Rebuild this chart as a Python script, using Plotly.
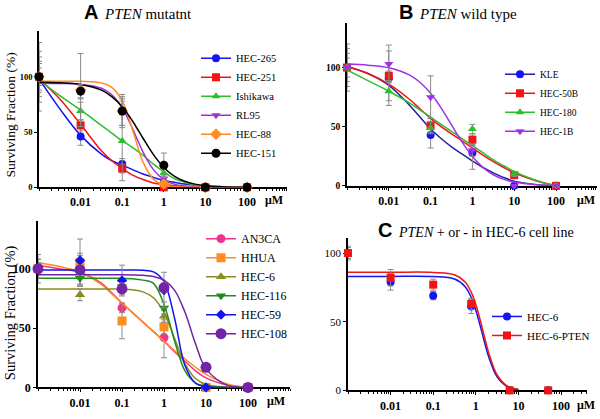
import plotly.graph_objects as go

# ---------------- data ----------------
conc = [0.001, 0.01, 0.1, 1, 10, 100]          # µM (first point = control, drawn at 0.001)
conc_C = [0.001, 0.01, 0.1, 0.78, 6.25, 50]
fit_log = [-3, -2.5, -2, -1.5, -1.25, -1, -0.75, -0.5, -0.25, 0, 0.25, 0.5, 0.75, 1, 1.5, 2]
fit_log_C = [-3, -2, -1, -0.5, -0.25, -0.1, 0, 0.1, 0.2, 0.3, 0.5, 0.75, 1]
tick_vals = [0.01, 0.1, 1, 10, 100]
tick_text = ["0.01", "0.1", "1", "10", "100"]

# Panel A (PTEN mutant)
A_names = ["HEC-265", "HEC-251", "Ishikawa", "RL95", "HEC-88", "HEC-151"]
A_hec265 = [100, 46, 21, 4, 0, 0]
A_hec251 = [100, 56, 17, 0, 0, 0]
A_ishikawa = [100, 69, 42, 13, 0, 0]
A_rl95 = [100, 86, 68, 8, 0, 0]
A_hec88 = [100, 88, 69, 3, 0, 0]
A_hec151 = [100, 87, 69, 20, 0, 0]
A_err_hec265 = [8, 8, 5, 3, 0, 0]
A_err_hec251 = [12, 5, 4, 1, 0, 0]
A_err_ishikawa = [18, 8, 36, 4, 0, 0]
A_err_rl95 = [23, 6, 12, 3, 0, 0]
A_err_hec88 = [31, 33, 15, 3, 0, 0]
A_err_hec151 = [14, 6, 13, 11, 0, 0]
A_fit_hec265 = [98, 71, 47, 30, 24, 20, 16, 12, 9, 6, 4.5, 3, 2, 1, 0, 0]
A_fit_hec251 = [98, 80, 57, 33, 24, 17, 11, 7, 4, 2.5, 1.5, 1, 0.5, 0.2, 0, 0]
A_fit_ishikawa = [97, 83, 70, 56, 49, 42, 36, 29, 21, 14, 8, 4.5, 2, 1, 0, 0]
A_fit_rl95 = [94, 93.9, 93.3, 89.6, 83.7, 71.8, 52.9, 31.9, 16, 7, 2.9, 1.2, 0.5, 0.2, 0, 0]
A_fit_hec88 = [96, 96, 95.9, 94.5, 90.5, 78.2, 51.8, 22.8, 7.4, 2.1, 0.6, 0.2, 0, 0, 0, 0]
A_fit_hec151 = [95, 94.5, 93, 87.9, 82.1, 72.9, 59.8, 44.4, 29.6, 18, 10.2, 5.5, 2.9, 1.6, 0.4, 0.1]

# Panel B (PTEN wild type)
B_names = ["KLE", "HEC-50B", "HEC-180", "HEC-1B"]
B_kle = [100, 91, 43, 28, 0, 0]
B_hec50b = [100, 93, 51, 39, 9, 0]
B_hec180 = [100, 80, 49, 48, 10, 0]
B_hec1b = [100, 103, 75, 30, 0, 0]
B_err_kle = [12, 23, 11, 14, 0, 0]
B_err_hec50b = [16, 4, 6, 5, 2, 0]
B_err_hec180 = [20, 8, 5, 4, 2, 0]
B_err_hec1b = [8, 16, 18, 5, 0, 0]
B_fit_kle = [101, 95, 85, 68, 58, 48, 40, 33, 27, 21, 15.5, 11, 7, 4, 1.2, 0]
B_fit_hec50b = [101, 95, 86, 73, 65, 57, 50, 44, 38, 32, 26, 20.5, 15.5, 11, 4.5, 0]
B_fit_hec180 = [98, 89, 80, 70, 64, 58, 52, 46, 40, 34, 28, 22, 17, 12, 5, 0]
B_fit_hec1b = [103, 102, 99.8, 93.6, 87.4, 78.2, 65.9, 51.5, 37.1, 24.8, 15.6, 9.4, 5.5, 3.2, 1, 0.3]

# Panel D (bottom left)
D_names = ["AN3CA", "HHUA", "HEC-6", "HEC-116", "HEC-59", "HEC-108"]
D_an3ca = [100, 99, 67, 42, 0, 0]
D_hhua = [100, 105, 56, 51, 0, 0]
D_hec6 = [100, 78, 83, 60, 0, 0]
D_hec116 = [100, 92, 85, 67, 0, 0]
D_hec59 = [100, 107, 90, 82, 0, 0]
D_hec108 = [100, 99, 83, 84, 17, 0]
D_err_an3ca = [8, 12, 4, 17, 0, 0]
D_err_hhua = [12, 20, 15, 6, 0, 0]
D_err_hec6 = [5, 5, 3, 5, 0, 0]
D_err_hec116 = [8, 6, 4, 5, 0, 0]
D_err_hec59 = [5, 6, 13, 15, 0, 0]
D_err_hec108 = [4, 4, 5, 4, 2, 0]
D_fit_an3ca = [103, 100, 97, 88, 80, 71, 63, 55, 47, 39, 30, 22, 14, 8, 2, 0]
D_fit_hhua = [105, 102, 97, 87, 79, 71, 63, 55, 47, 39, 31, 24, 17, 11, 3, 0]
D_fit_hec6 = [83, 83, 83, 83, 82.9, 82.7, 82.2, 80.5, 75.5, 63.1, 41.5, 19.9, 7.5, 2.5, 0.3, 0]
D_fit_hec116 = [92, 92, 92, 92, 92, 91.9, 91.6, 90.4, 87.6, 69.9, 39.4, 13.9, 3.8, 0.9, 0, 0]
D_fit_hec59 = [99, 99, 99, 99, 99, 99, 99, 98.7, 97.3, 89.2, 58.5, 18.4, 3.5, 0.6, 0, 0]
D_fit_hec108 = [95, 95, 95, 95, 95, 95, 94.8, 94.5, 93.5, 90.3, 82, 63.3, 36.8, 15.8, 1.9, 0.2]

# Panel C (PTEN + or - in HEC-6)
C_names = ["HEC-6", "HEC-6-PTEN"]
C_hec6 = [100, 79, 69, 61, 0, 0]
C_hec6pten = [100, 82, 77, 63, 0, 0]
C_err_hec6 = [5, 6, 3, 5, 0, 0]
C_err_hec6pten = [4, 6, 4, 4, 0, 0]
C_fit_hec6 = [83, 83, 82.9, 81.1, 75.5, 67.1, 58.4, 47.4, 35.6, 24.6, 9.8, 2.5, 0.6]
C_fit_hec6pten = [86, 86, 85.9, 84.2, 79, 71, 62.5, 51.6, 39.3, 27.6, 11.2, 2.9, 0.7]

# ---------------- styles ----------------
SERIF = "Liberation Serif, Times New Roman, DejaVu Serif, serif"
SANS = "Liberation Sans, Arial, sans-serif"
ERR_COLOR = "#8a8a8a"

fig = go.Figure()


def add_series(name, xs, ys, err, fit_x_log, fit_y, color, symbol, size,
               xa, ya, legend, line_color=None):
    lc = line_color or color
    fig.add_trace(go.Scatter(
        x=[10 ** v for v in fit_x_log], y=fit_y, mode="lines",
        line=dict(color=lc, width=1.5, shape="spline", smoothing=1.0),
        xaxis=xa, yaxis=ya, showlegend=False, hoverinfo="skip"))
    fig.add_trace(go.Scatter(
        x=xs, y=ys, mode="markers",
        marker=dict(color=color, symbol=symbol, size=size, line=dict(width=0)),
        error_y=dict(type="data", array=err, color=ERR_COLOR, thickness=1, width=3),
        xaxis=xa, yaxis=ya, showlegend=False, cliponaxis=False))
    fig.add_trace(go.Scatter(
        x=[None], y=[None], mode="lines+markers", name=name,
        line=dict(color=lc, width=1.5),
        marker=dict(color=color, symbol=symbol, size=size),
        xaxis=xa, yaxis=ya, legend=legend, showlegend=True))


# Panel A
A_series = [
    (A_hec265, A_err_hec265, A_fit_hec265, "#1414F0", "circle", 8),
    (A_hec251, A_err_hec251, A_fit_hec251, "#F01414", "square", 8),
    (A_ishikawa, A_err_ishikawa, A_fit_ishikawa, "#2DBE2D", "triangle-up", 8),
    (A_rl95, A_err_rl95, A_fit_rl95, "#A032D2", "triangle-down", 8),
    (A_hec88, A_err_hec88, A_fit_hec88, "#FF8C1E", "diamond", 9),
    (A_hec151, A_err_hec151, A_fit_hec151, "#000000", "circle", 9),
]
for n, (ys, er, fy, c, s, sz) in zip(A_names, A_series):
    add_series(n, conc, ys, er, fit_log, fy, c, s, sz, "x", "y", "legend")

# Panel B
B_series = [
    (B_kle, B_err_kle, B_fit_kle, "#1414F0", "circle", 8, "#23239B"),
    (B_hec50b, B_err_hec50b, B_fit_hec50b, "#F01414", "square", 8, None),
    (B_hec180, B_err_hec180, B_fit_hec180, "#2DBE2D", "triangle-up", 8, None),
    (B_hec1b, B_err_hec1b, B_fit_hec1b, "#A032E6", "triangle-down", 8, None),
]
for n, (ys, er, fy, c, s, sz, lc) in zip(B_names, B_series):
    add_series(n, conc, ys, er, fit_log, fy, c, s, sz, "x2", "y2", "legend2", lc)

# Panel D
D_series = [
    (D_an3ca, D_err_an3ca, D_fit_an3ca, "#F0328C", "circle", 9),
    (D_hhua, D_err_hhua, D_fit_hhua, "#FF8C1E", "square", 9),
    (D_hec6, D_err_hec6, D_fit_hec6, "#8C8C1E", "triangle-up", 9),
    (D_hec116, D_err_hec116, D_fit_hec116, "#1E8C1E", "triangle-down", 9),
    (D_hec59, D_err_hec59, D_fit_hec59, "#1414F0", "diamond", 8),
    (D_hec108, D_err_hec108, D_fit_hec108, "#7323A5", "circle", 11),
]
for n, (ys, er, fy, c, s, sz) in zip(D_names, D_series):
    add_series(n, conc, ys, er, fit_log, fy, c, s, sz, "x3", "y3", "legend3")

# Panel C
C_series = [
    (C_hec6, C_err_hec6, C_fit_hec6, "#1414F0", "circle", 8),
    (C_hec6pten, C_err_hec6pten, C_fit_hec6pten, "#F01414", "square", 8),
]
for n, (ys, er, fy, c, s, sz) in zip(C_names, C_series):
    add_series(n, conc_C, ys, er, fit_log_C, fy, c, s, sz, "x4", "y4", "legend4")

W, H = 600, 419


def px_x(p):
    return p / W


def px_y(p):
    return 1 - p / H


def xaxis(dom, rng, anchor):
    return dict(type="log", range=rng, domain=dom, anchor=anchor,
                showline=True, linecolor="black", linewidth=1.5,
                ticks="outside", ticklen=3, tickwidth=1, tickcolor="black",
                tickvals=tick_vals, ticktext=tick_text,
                tickfont=dict(family=SERIF, size=12, color="black", weight="bold"),
                minor=dict(ticks="outside", ticklen=2, tickwidth=1, tickcolor="black", dtick="D1"),
                showgrid=False, zeroline=False, layer="below traces")


def yaxis(dom, rng, anchor, fs, weight="bold"):
    return dict(range=rng, domain=dom, anchor=anchor,
                showline=True, linecolor="black", linewidth=1.5,
                ticks="outside", ticklen=3, tickwidth=1, tickcolor="black",
                tickvals=[0, 50, 100], ticktext=["0", "50", "100"],
                tickfont=dict(family=SERIF, size=fs, color="black", weight=weight),
                showgrid=False, zeroline=False, layer="below traces")


def legend(xpx, ypx, fs):
    return dict(x=px_x(xpx), y=px_y(ypx), xanchor="left", yanchor="middle",
                bgcolor="rgba(0,0,0,0)", borderwidth=0, itemwidth=30,
                font=dict(family=SERIF, size=fs, color="black"))


fig.update_layout(
    width=W, height=H, margin=dict(l=0, r=0, t=0, b=0),
    paper_bgcolor="white", plot_bgcolor="white", showlegend=True,
    xaxis=xaxis([px_x(39), px_x(287)], [-3, 2.96], "y"),
    yaxis=yaxis([px_y(190.5), px_y(32)], [0, 141], "x", 8.5),
    xaxis2=xaxis([px_x(347), px_x(597)], [-3, 2.98], "y2"),
    yaxis2=yaxis([px_y(189), px_y(23)], [0, 138], "x2", 9.5),
    xaxis3=xaxis([px_x(38), px_x(290)], [-3, 3.0], "y3"),
    yaxis3=yaxis([px_y(394), px_y(225)], [0, 140], "x3", 12),
    xaxis4=xaxis([px_x(348), px_x(587)], [-3, 2.61], "y4"),
    yaxis4=yaxis([px_y(397), px_y(242)], [0, 111], "x4", 11, "normal"),
    legend=legend(196, 107.5, 10.5),
    legend2=legend(500, 104.5, 9.5),
    legend3=legend(201, 291, 12),
    legend4=legend(487, 331.5, 11),
)

ann = []
# panel titles
ann.append(dict(text="<b>A</b>", x=px_x(100), y=px_y(12), xanchor="right", yanchor="middle",
                font=dict(family=SANS, size=20, color="black")))
ann.append(dict(text="<i>PTEN</i> mutatnt", x=px_x(102), y=px_y(14), xanchor="left", yanchor="middle",
                font=dict(family=SERIF, size=15, color="black")))
ann.append(dict(text="<b>B</b>", x=px_x(415), y=px_y(12), xanchor="right", yanchor="middle",
                font=dict(family=SANS, size=20, color="black")))
ann.append(dict(text="<i>PTEN</i> wild type", x=px_x(417), y=px_y(14), xanchor="left", yanchor="middle",
                font=dict(family=SERIF, size=15, color="black")))
ann.append(dict(text="<b>C</b>", x=px_x(394), y=px_y(234), xanchor="right", yanchor="middle",
                font=dict(family=SANS, size=20, color="black")))
ann.append(dict(text="<i>PTEN</i> + or - in HEC-6 cell line", x=px_x(396), y=px_y(236.5),
                xanchor="left", yanchor="middle", font=dict(family=SERIF, size=14, color="black")))
# y titles
ann.append(dict(text="Surviving Fraction (%)", x=px_x(10.5), y=px_y(117), textangle=-90,
                xanchor="center", yanchor="middle", font=dict(family=SERIF, size=13.5, color="black")))
ann.append(dict(text="Surviving Fraction (%)", x=px_x(10.5), y=px_y(318), textangle=-90,
                xanchor="center", yanchor="middle", font=dict(family=SERIF, size=14.5, color="black")))
# µM unit labels
for xp, yp in [(274, 203), (586, 203), (276, 408), (585.5, 412)]:
    ann.append(dict(text="μM", x=px_x(xp), y=px_y(yp), xanchor="center", yanchor="middle",
                    font=dict(family=SERIF, size=12, color="black", weight="bold")))
for a in ann:
    a.update(xref="paper", yref="paper", showarrow=False)
fig.update_layout(annotations=ann)

fig.write_html("out.html",
               config={"displayModeBar": False},
               post_script="document.body.style.margin='0px';document.body.style.overflow='hidden';")
